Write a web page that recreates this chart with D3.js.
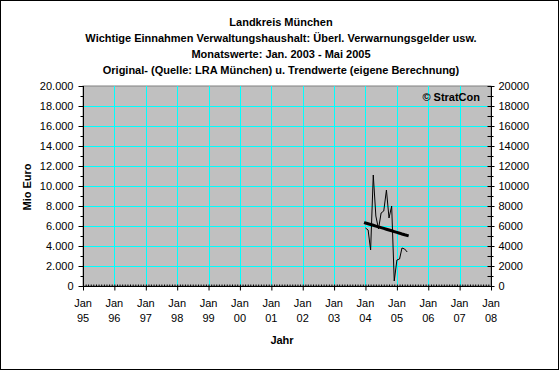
<!DOCTYPE html>
<html><head><meta charset="utf-8">
<script src="https://cdn.jsdelivr.net/npm/d3@7"></script>
<style>
html,body{margin:0;padding:0;background:#fff;}
svg{display:block;}
text{font-family:"Liberation Sans",Arial,sans-serif;font-size:11px;fill:#000;}
</style></head>
<body><svg id="c" width="560" height="371"></svg>
<script>
// ---- data ----
const titleLines = [
  "Landkreis München",
  "Wichtige Einnahmen Verwaltungshaushalt: Überl. Verwarnungsgelder usw.",
  "Monatswerte: Jan. 2003 - Mai 2005",
  "Original- (Quelle: LRA München) u. Trendwerte (eigene Berechnung)"
];
const months = ["2004-01","2004-02","2004-03","2004-04","2004-05","2004-06","2004-07","2004-08","2004-09","2004-10","2004-11","2004-12","2005-01","2005-02","2005-03","2005-04","2005-05"];
const original = [5800, 5600, 3600, 11100, 7000, 5700, 7300, 7500, 9600, 6800, 8000, 500, 2600, 2700, 3800, 3700, 3400];
const trend = [6300, 6220, 6150, 6070, 5990, 5910, 5840, 5760, 5680, 5600, 5520, 5440, 5360, 5280, 5200, 5120, 5050];
const yearTicks = ["1995","1996","1997","1998","1999","2000","2001","2002","2003","2004","2005","2006","2007","2008"];
const yTicks = [0,2000,4000,6000,8000,10000,12000,14000,16000,18000,20000];
const yMinorTicks = [1000,3000,5000,7000,9000,11000,13000,15000,17000,19000];

// ---- chart ----
const svg = d3.select("#c");
const parseM = d3.timeParse("%Y-%m");
const parseY = d3.timeParse("%Y");
const L = 83, R = 491, T = 86, B = 286;
const x = d3.scaleTime().domain([parseY(yearTicks[0]), parseY(yearTicks[yearTicks.length-1])]).range([L, R]);
const y = d3.scaleLinear().domain([0, 20000]).range([B, T]);
const de = d3.formatLocale({decimal: ",", thousands: ".", grouping: [3], currency: ["", "€"]});
const fmtL = de.format(",");
const fmtR = d3.format("d");

// outer frame
svg.append("rect").attr("x",0.5).attr("y",0.5).attr("width",558).attr("height",369)
  .attr("fill","#fff").attr("stroke","#000");

// plot bg
svg.append("rect").attr("x",L).attr("y",T).attr("width",R-L).attr("height",B-T)
  .attr("fill","#C0C0C0").attr("stroke","#808080");

// grid
const yearDates = yearTicks.map(parseY);
svg.append("g").selectAll("line").data(yearDates.slice(1,-1)).join("line")
  .attr("x1",d=>Math.round(x(d))+0.5).attr("x2",d=>Math.round(x(d))+0.5)
  .attr("y1",T).attr("y2",B).attr("stroke","#00FFFF");
svg.append("g").selectAll("line").data(yTicks.slice(1,-1)).join("line")
  .attr("x1",L).attr("x2",R)
  .attr("y1",d=>Math.round(y(d))+0.5).attr("y2",d=>Math.round(y(d))+0.5).attr("stroke","#00FFFF");

// axes
const axL = svg.append("g").attr("transform",`translate(${L+0.5},0)`);
axL.call(d3.axisLeft(y).tickValues(yTicks).tickFormat(fmtL).tickSize(5).tickPadding(5));
axL.append("g").call(d3.axisLeft(y).tickValues(yMinorTicks).tickFormat("").tickSize(3));
const axR = svg.append("g").attr("transform",`translate(${R+0.5},0)`);
axR.call(d3.axisRight(y).tickValues(yTicks).tickFormat(fmtR).tickSize(3).tickPadding(4));
axR.append("g").call(d3.axisRight(y).tickValues(yMinorTicks).tickFormat("").tickSize(2));
axR.selectAll(".tick line").attr("x1",-4);
const axB = svg.append("g").attr("transform",`translate(0,${B+0.5})`);
axB.call(d3.axisBottom(x).tickValues(yearDates).tickFormat("").tickSize(4));
const monthly = d3.timeMonth.range(yearDates[0], yearDates[yearDates.length-1]);
axB.append("g").call(d3.axisTop(x).tickValues(monthly).tickFormat("").tickSize(2));
[axL, axR, axB].forEach(a => {
  a.selectAll(".domain").attr("stroke","#000");
  a.selectAll("line").attr("stroke","#000");
  a.selectAll("text").attr("font-family","Liberation Sans, Arial, sans-serif").attr("font-size",11);
});
axB.selectAll(".domain").attr("d",`M${L},0H${R}`);
axL.selectAll(".domain").attr("d",`M0,${T}V${B}`);
axR.selectAll(".domain").attr("d",`M0,${T}V${B}`);

// x tick labels
const xl = svg.append("g").selectAll("g").data(yearTicks).join("g");
xl.append("text").attr("x",d=>x(parseY(d))).attr("y",307).attr("text-anchor","middle").text("Jan");
xl.append("text").attr("x",d=>x(parseY(d))).attr("y",322).attr("text-anchor","middle").text(d=>d.slice(2));

// series
const mDates = months.map(parseM);
const line = d3.line().x((d,i)=>x(mDates[i])).y(d=>y(d));
svg.append("path").datum(original).attr("d",line).attr("fill","none").attr("stroke","#000").attr("stroke-width",1);
svg.append("path").datum(trend).attr("d",line).attr("fill","none").attr("stroke","#000").attr("stroke-width",3).attr("stroke-linecap","square");

// titles
svg.append("g").selectAll("text").data(titleLines).join("text")
  .attr("x",281).attr("y",(d,i)=>26+i*16).attr("text-anchor","middle").attr("font-weight","bold").text(d=>d);
svg.append("text").attr("x",480).attr("y",101).attr("text-anchor","end").attr("font-weight","bold").text("© StratCon");
svg.append("text").attr("x",282).attr("y",344).attr("text-anchor","middle").attr("font-weight","bold").text("Jahr");
svg.append("text").attr("transform","translate(31,187) rotate(-90)").attr("text-anchor","middle").attr("font-weight","bold").text("Mio Euro");
</script></body></html>
